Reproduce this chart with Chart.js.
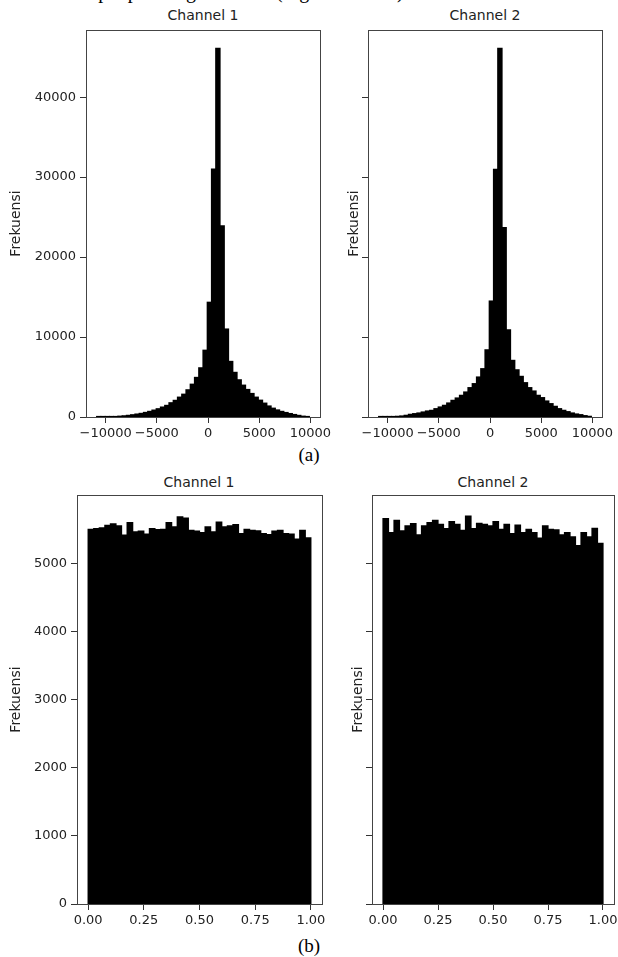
<!DOCTYPE html>
<html>
<head>
<meta charset="utf-8">
<script src="https://cdn.jsdelivr.net/npm/chart.js@4.4.1/dist/chart.umd.min.js"></script>
<style>
  html, body { margin: 0; padding: 0; background: #fff; }
  body { width: 618px; height: 957px; position: relative; overflow: hidden; }
  canvas { position: absolute; }
  .ttl { position: absolute; font-family: "DejaVu Sans"; font-size: 14px; color: #222; transform: translate(-50%, -50%); white-space: nowrap; }
  .cap { position: absolute; font-family: "Liberation Serif"; font-size: 19px; color: #000; transform: translate(-50%, -50%); white-space: nowrap; }
  .cut { position: absolute; left: 66px; top: -19px; font-family: "Liberation Serif"; font-size: 20px; line-height: 20px; color: #000; white-space: nowrap; }
</style>
</head>
<body>
<div class="cut">sampel pada digital audio (Fig. 6a dan 6b).</div>

<div class="ttl" style="left:203px; top:15px;">Channel 1</div>
<div class="ttl" style="left:485px; top:15px;">Channel 2</div>
<div class="cap" style="left:309px; top:455px;">(a)</div>
<div class="ttl" style="left:199px; top:482px;">Channel 1</div>
<div class="ttl" style="left:493px; top:482px;">Channel 2</div>
<div class="cap" style="left:309px; top:946px;">(b)</div>

<canvas id="topLeft" width="340" height="445" style="left:0; top:0;"></canvas>
<canvas id="topRight" width="272" height="445" style="left:346px; top:0;"></canvas>
<canvas id="botLeft" width="345" height="487" style="left:0; top:470px;"></canvas>
<canvas id="botRight" width="290" height="487" style="left:350px; top:470px;"></canvas>

<script>
// (a) histogram of sample values, 50 bins
const topBinStart = -10880;
const topBinWidth = 415.6;
const ch1TopCounts = [5, 12, 22, 38, 60, 100, 145, 205, 280, 365, 450, 570, 700, 860, 1030, 1240, 1450, 1780, 2080, 2480,
  2850, 3400, 4100, 4950, 6150, 8350, 14350, 31000, 46100, 23900, 11000, 6950, 5580, 4650, 3980, 3440, 2940, 2480, 2100, 1730,
  1375, 1100, 880, 700, 560, 430, 310, 200, 100, 25];
const ch2TopCounts = [5, 15, 30, 50, 83, 125, 210, 333, 417, 500, 625, 750, 830, 1040, 1250, 1460, 1750, 2080, 2375, 2710,
  3125, 3670, 4170, 5000, 6040, 8400, 14500, 30960, 46100, 23700, 10900, 7080, 5900, 5080, 4290, 3670, 3250, 2710, 2420, 2000,
  1667, 1333, 1040, 833, 667, 500, 375, 290, 167, 83];
const topXTicks = [-10000, -5000, 0, 5000, 10000];
const topYTicks = [0, 10000, 20000, 30000, 40000];

// (b) histogram of normalised values, 40 bins
const botBinStart = 0;
const botBinWidth = 0.025;
const ch1BotCounts = [5497, 5507, 5517, 5555, 5575, 5546, 5410, 5594, 5459, 5469, 5425, 5507, 5493, 5497, 5594, 5531, 5681, 5662, 5483, 5469,
  5449, 5531, 5459, 5604, 5531, 5546, 5565, 5435, 5497, 5483, 5473, 5435, 5420, 5469, 5483, 5435, 5425, 5353, 5483, 5372];
const ch2BotCounts = [5652, 5449, 5628, 5473, 5546, 5580, 5415, 5546, 5594, 5628, 5570, 5507, 5609, 5570, 5483, 5691, 5507, 5584, 5570, 5546,
  5609, 5497, 5570, 5435, 5560, 5449, 5497, 5449, 5367, 5546, 5497, 5488, 5415, 5449, 5386, 5256, 5449, 5386, 5512, 5290];
const botXTicks = [0, 0.25, 0.5, 0.75, 1];
const botYTicks = [0, 1000, 2000, 3000, 4000, 5000];

function toPoints(start, width, counts) {
  return counts.map((c, i) => ({ x: start + width * (i + 0.5), y: c }));
}

const minus = v => (v < 0 ? '\u2212' + (-v) : String(v));
const tickFont = { family: 'DejaVu Sans', size: 13 };

// the four spines round the plot area
const framePlugin = {
  id: 'frame',
  afterDatasetsDraw(chart) {
    const { ctx, chartArea: a } = chart;
    ctx.save();
    ctx.strokeStyle = '#444';
    ctx.lineWidth = 1;
    ctx.strokeRect(Math.round(a.left) + 0.5, Math.round(a.top) + 0.5,
      Math.round(a.right - a.left), Math.round(a.bottom - a.top));
    ctx.restore();
  }
};

function histChart(id, cfg) {
  const tickGrid = { display: true, drawOnChartArea: false, drawTicks: true, tickLength: 6, color: '#333', lineWidth: 1, offset: false };
  return new Chart(document.getElementById(id), {
    type: 'bar',
    data: {
      datasets: [{
        data: cfg.points,
        backgroundColor: '#000',
        borderWidth: 0,
        inflateAmount: 0.6,
        barPercentage: 1,
        categoryPercentage: 1
      }]
    },
    options: {
      responsive: false,
      animation: false,
      layout: { padding: cfg.padding },
      plugins: { legend: { display: false }, tooltip: { enabled: false } },
      scales: {
        x: {
          type: 'linear',
          min: cfg.xMin,
          max: cfg.xMax,
          offset: false,
          afterFit: s => { s.height = cfg.xAxisHeight; },
          afterBuildTicks: s => { s.ticks = cfg.xTicks.map(v => ({ value: v })); },
          grid: tickGrid,
          border: { display: false },
          ticks: { autoSkip: false, maxRotation: 0, padding: 3, color: '#222', font: tickFont, callback: cfg.xFormat }
        },
        y: {
          min: 0,
          max: cfg.yMax,
          afterFit: s => { s.width = cfg.yAxisWidth; },
          afterBuildTicks: s => { s.ticks = cfg.yTicks.map(v => ({ value: v })); },
          grid: tickGrid,
          border: { display: false },
          ticks: { padding: 4, color: '#222', font: tickFont, callback: cfg.yFormat },
          title: { display: true, text: 'Frekuensi', padding: 0, color: '#222', font: { family: 'DejaVu Sans', size: 14 } }
        }
      }
    },
    plugins: [framePlugin]
  });
}

const topCommon = { xMin: -11919, xMax: 10939, yMax: 48400, xTicks: topXTicks, yTicks: topYTicks, xFormat: minus, xAxisHeight: 28 };
const botCommon = { xMin: -0.05, xMax: 1.05, yMax: 6000, xTicks: botXTicks, yTicks: botYTicks, xFormat: v => v.toFixed(2), xAxisHeight: 53 };

histChart('topLeft', Object.assign({}, topCommon, {
  points: toPoints(topBinStart, topBinWidth, ch1TopCounts),
  padding: { left: 8, top: 30, right: 20, bottom: 0 },
  yAxisWidth: 78,
  yFormat: v => String(v)
}));
histChart('topRight', Object.assign({}, topCommon, {
  points: toPoints(topBinStart, topBinWidth, ch2TopCounts),
  padding: { left: 0, top: 30, right: 16, bottom: 0 },
  yAxisWidth: 22,
  yFormat: () => ''
}));
histChart('botLeft', Object.assign({}, botCommon, {
  points: toPoints(botBinStart, botBinWidth, ch1BotCounts),
  padding: { left: 8, top: 25, right: 23, bottom: 0 },
  yAxisWidth: 69,
  yFormat: v => String(v)
}));
histChart('botRight', Object.assign({}, botCommon, {
  points: toPoints(botBinStart, botBinWidth, ch2BotCounts),
  padding: { left: 0, top: 25, right: 26, bottom: 0 },
  yAxisWidth: 22,
  yFormat: () => ''
}));
</script>
</body>
</html>
